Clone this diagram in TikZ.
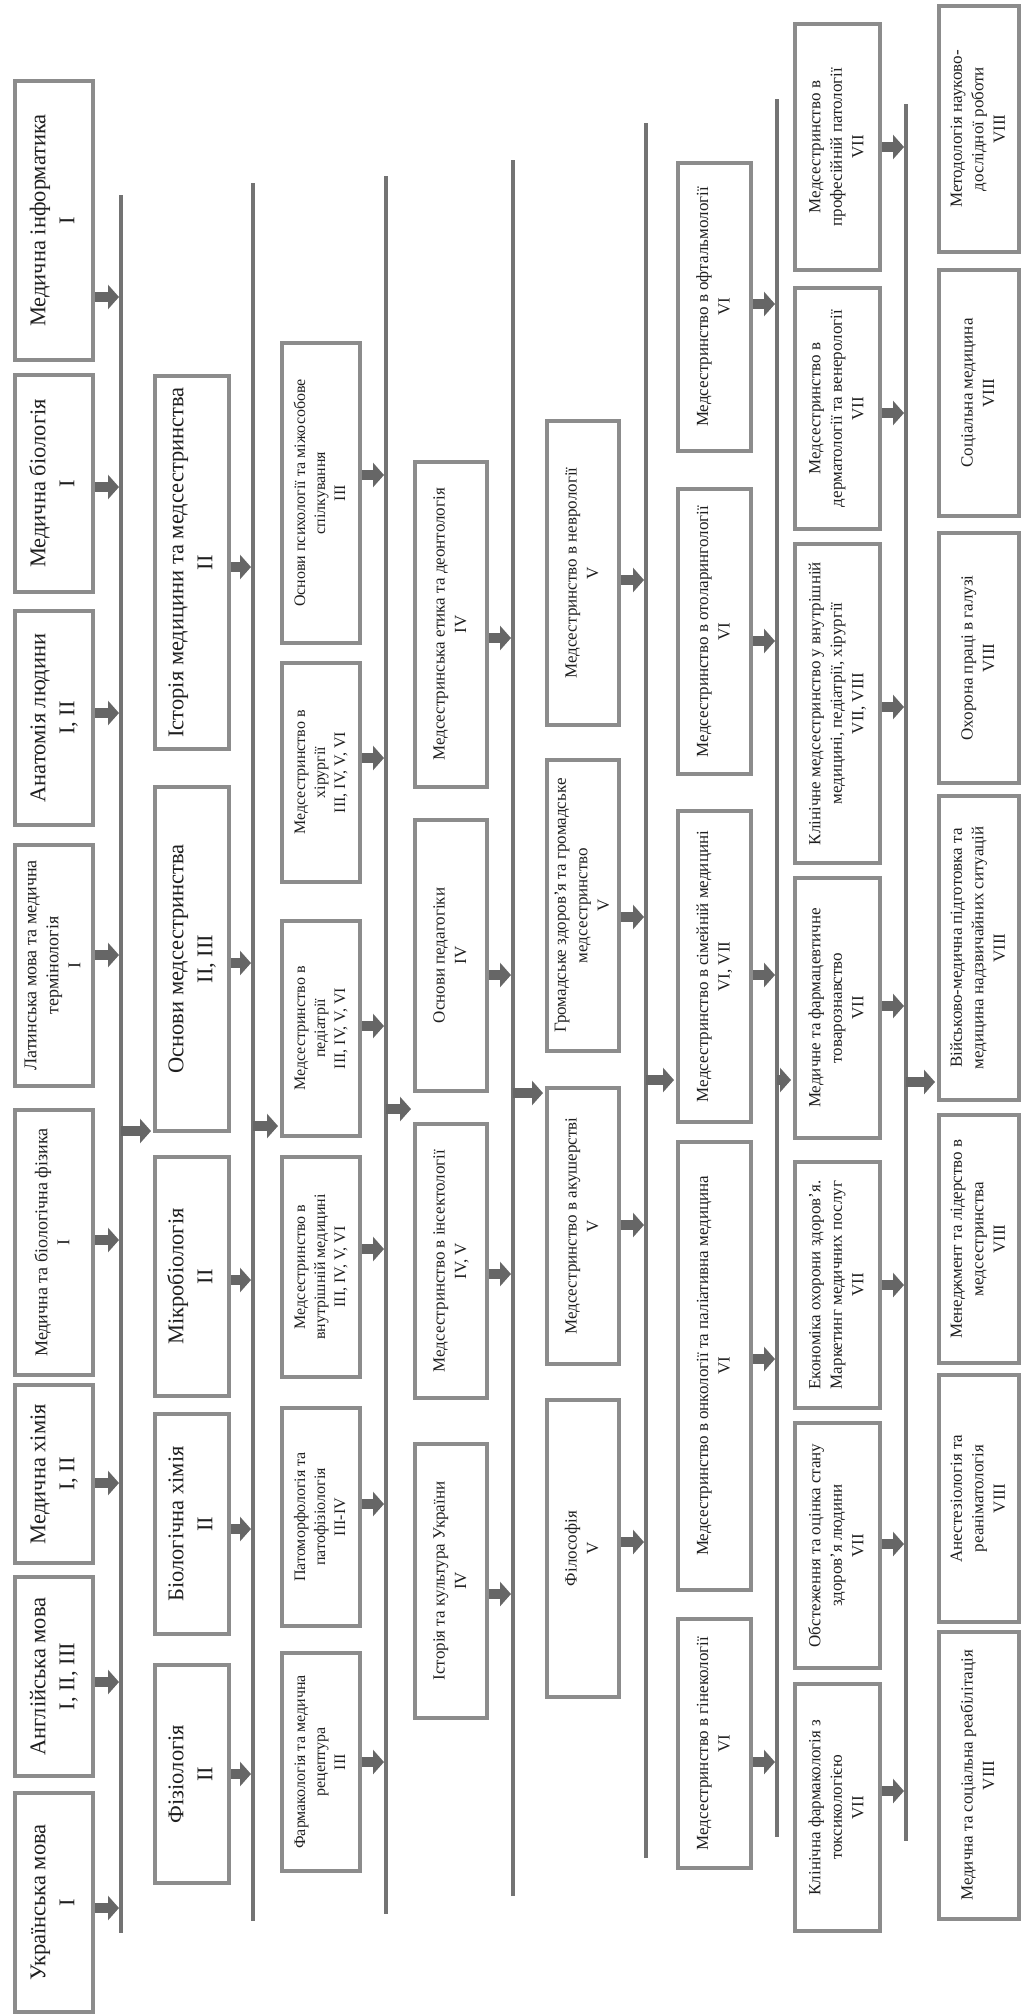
\documentclass[tikz,border=0pt]{standalone}
\usepackage{fontspec}
\setmainfont{Liberation Serif}
\usetikzlibrary{arrows.meta}
\definecolor{boxc}{rgb}{0.55,0.55,0.55}
\definecolor{linec}{rgb}{0.45,0.45,0.45}
\definecolor{arrc}{rgb}{0.40,0.40,0.40}
\definecolor{txtc}{rgb}{0.12,0.12,0.12}
\tikzset{
  box/.style={draw=boxc, line width=4pt, rectangle, inner sep=0pt, text=txtc, fill=white},
  fL/.style={font=\fontsize{22.5}{29}\selectfont},
  fA/.style={font=\fontsize{18}{22}\selectfont},
  fM/.style={font=\fontsize{17}{21.5}\selectfont},
  fS/.style={font=\fontsize{16}{20}\selectfont},
  vline/.style={draw=linec, line width=4pt},
  arr/.style={draw=arrc, line width=10pt, -{Triangle[length=11pt,width=24pt]}, shorten >=2pt},
}
\newcommand\bx[7]{%
  \pgfmathsetmacro\bxcx{(#2+#3)/2}%
  \pgfmathsetmacro\bxcy{-(#4+#5)/2}%
  \pgfmathsetmacro\bxw{#3-#2-4}%
  \pgfmathsetmacro\bxh{#5-#4-4}%
  \node[box,#6,minimum width=\bxw pt,minimum height=\bxh pt] (#1) at (\bxcx,\bxcy)
    {\rotatebox{90}{\begin{tabular}{@{}c@{}}#7\end{tabular}}};}
\newcommand\outarr[3]{\draw[arr] (#1.east |- 0,-#3) -- (#2 |- 0,-#3);}
\newcommand\inarr[3]{\draw[arr] (#1 |- 0,-#3) -- (#2.west |- 0,-#3);}
\begin{document}
\begin{tikzpicture}[x=1pt,y=1pt]
\useasboundingbox (0,0) rectangle (1024,-2016);
\fill[white] (0,0) rectangle (1024,-2016);
% vertical lines
\coordinate (l1t) at (121,-195);  \coordinate (l1b) at (121,-1933);
\coordinate (l2t) at (253,-183);  \coordinate (l2b) at (253,-1921);
\coordinate (l3t) at (386,-176);  \coordinate (l3b) at (386,-1914);
\coordinate (l4t) at (513,-160);  \coordinate (l4b) at (513,-1896);
\coordinate (l5t) at (646,-123);  \coordinate (l5b) at (646,-1858);
\coordinate (l6t) at (777,-99);   \coordinate (l6b) at (777,-1837);
\coordinate (l7t) at (906,-104);  \coordinate (l7b) at (906,-1841);
\foreach \i in {1,...,7} {\draw[vline] (l\i t) -- (l\i b);}
% column 1
\bx{b11}{13}{95}{79}{362}{fL}{Медична інформатика\\I}
\bx{b12}{13}{95}{373}{594}{fL}{Медична біологія\\I}
\bx{b13}{13}{95}{609}{827}{fL}{Анатомія людини\\I, II}
\bx{b14}{13}{95}{843}{1088}{fA}{Латинська мова та медична\\термінологія\\I}
\bx{b15}{13}{95}{1108}{1377}{fA}{Медична та біологічна фізика\\I}
\bx{b16}{13}{95}{1383}{1565}{fL}{Медична хімія\\I, II}
\bx{b17}{13}{95}{1575}{1778}{fL}{Англійська мова\\I, II, III}
\bx{b18}{13}{95}{1791}{2014}{fL}{Українська мова\\I}
% column 2
\bx{b21}{153}{231}{374}{751}{fL}{Історія медицини та медсестринства\\II}
\bx{b22}{153}{231}{785}{1133}{fL}{Основи медсестринства\\II, III}
\bx{b23}{153}{231}{1155}{1398}{fL}{Мікробіологія\\II}
\bx{b24}{153}{231}{1412}{1636}{fL}{Біологічна хімія\\II}
\bx{b25}{153}{231}{1663}{1885}{fL}{Фізіологія\\II}
% column 3
\bx{b31}{280}{362}{341}{645}{fS}{Основи психології та міжособове\\спілкування\\III}
\bx{b32}{280}{362}{661}{884}{fS}{Медсестринство в\\хірургії\\III, IV, V, VI}
\bx{b33}{280}{362}{919}{1138}{fS}{Медсестринство в\\педіатрії\\III, IV, V, VI}
\bx{b34}{280}{362}{1155}{1379}{fS}{Медсестринство в\\внутрішній медицині\\III, IV, V, VI}
\bx{b35}{280}{362}{1406}{1628}{fS}{Патоморфологія та\\патофізіологія\\III-IV}
\bx{b36}{280}{362}{1651}{1873}{fS}{Фармакологія та медична\\рецептура\\III}
% column 4
\bx{b41}{413}{489}{460}{789}{fM}{Медсестринська етика та деонтологія\\IV}
\bx{b42}{413}{489}{818}{1093}{fM}{Основи педагогіки\\IV}
\bx{b43}{413}{489}{1122}{1400}{fM}{Медсестринство в інсектології\\IV, V}
\bx{b44}{413}{489}{1442}{1720}{fM}{Історія та культура України\\IV}
% column 5
\bx{b51}{545}{621}{419}{727}{fM}{Медсестринство в неврології\\V}
\bx{b52}{545}{621}{758}{1053}{fM}{Громадське здоров’я та громадське\\медсестринство\\V}
\bx{b53}{545}{621}{1086}{1366}{fM}{Медсестринство в акушерстві\\V}
\bx{b54}{545}{621}{1398}{1699}{fM}{Філософія\\V}
% column 6
\bx{b61}{676}{753}{161}{453}{fM}{Медсестринство в офтальмології\\VI}
\bx{b62}{676}{753}{487}{776}{fM}{Медсестринство в отоларингології\\VI}
\bx{b63}{676}{753}{809}{1124}{fM}{Медсестринство в сімейній медицині\\VI, VII}
\bx{b64}{676}{753}{1140}{1592}{fM}{Медсестринство в онкології та паліативна медицина\\VI}
\bx{b65}{676}{753}{1617}{1870}{fM}{Медсестринство в гінекології\\VI}
% column 7
\bx{b71}{793}{882}{22}{272}{fM}{Медсестринство в\\професійній патології\\VII}
\bx{b72}{793}{882}{286}{531}{fM}{Медсестринство в\\дерматології та венерології\\VII}
\bx{b73}{793}{882}{542}{865}{fM}{Клінічне медсестринство у внутрішній\\медицині, педіатрії, хірургії\\VII, VIII}
\bx{b74}{793}{882}{876}{1140}{fM}{Медичне та фармацевтичне\\товарознавство\\VII}
\bx{b75}{793}{882}{1160}{1410}{fM}{Економіка охорони здоров’я.\\Маркетинг медичних послуг\\VII}
\bx{b76}{793}{882}{1421}{1670}{fM}{Обстеження та оцінка стану\\здоров’я людини\\VII}
\bx{b77}{793}{882}{1682}{1933}{fM}{Клінічна фармакологія з\\токсикологією\\VII}
% column 8
\bx{b81}{937}{1021}{4}{254}{fM}{Методологія науково-\\дослідної роботи\\VIII}
\bx{b82}{937}{1021}{268}{518}{fM}{Соціальна медицина\\VIII}
\bx{b83}{937}{1021}{531}{785}{fM}{Охорона праці в галузі\\VIII}
\bx{b84}{937}{1021}{794}{1102}{fM}{Військово-медична підготовка та\\медицина надзвичайних ситуацій\\VIII}
\bx{b85}{937}{1021}{1113}{1365}{fM}{Менеджмент та лідерство в\\медсестринства\\VIII}
\bx{b86}{937}{1021}{1373}{1624}{fM}{Анестезіологія та\\реаніматологія\\VIII}
\bx{b87}{937}{1021}{1630}{1921}{fM}{Медична та соціальна реабілітація\\VIII}
% arrows out of column 1
\outarr{b11}{l1t}{297}
\outarr{b12}{l1t}{487}
\outarr{b13}{l1t}{713}
\outarr{b14}{l1t}{955}
\outarr{b15}{l1t}{1240}
\outarr{b16}{l1t}{1483}
\outarr{b17}{l1t}{1682}
\outarr{b18}{l1t}{1908}
% column 2
\inarr{l1t}{b22}{1131}
\outarr{b21}{l2t}{567}
\outarr{b22}{l2t}{963}
\outarr{b23}{l2t}{1280}
\outarr{b24}{l2t}{1529}
\outarr{b25}{l2t}{1774}
% column 3
\inarr{l2t}{b33}{1126}
\outarr{b31}{l3t}{475}
\outarr{b32}{l3t}{758}
\outarr{b33}{l3t}{1026}
\outarr{b34}{l3t}{1249}
\outarr{b35}{l3t}{1504}
\outarr{b36}{l3t}{1762}
% column 4
\inarr{l3t}{b43}{1109}
\outarr{b41}{l4t}{638}
\outarr{b42}{l4t}{975}
\outarr{b43}{l4t}{1274}
\outarr{b44}{l4t}{1594}
% column 5
\inarr{l4t}{b53}{1093}
\outarr{b51}{l5t}{580}
\outarr{b52}{l5t}{917}
\outarr{b53}{l5t}{1225}
\outarr{b54}{l5t}{1542}
% column 6
\inarr{l5t}{b63}{1080}
\outarr{b61}{l6t}{304}
\outarr{b62}{l6t}{641}
\outarr{b63}{l6t}{975}
\outarr{b64}{l6t}{1359}
\outarr{b65}{l6t}{1762}
% column 7
\inarr{l6t}{b74}{1080}
\outarr{b71}{l7t}{147}
\outarr{b72}{l7t}{413}
\outarr{b73}{l7t}{707}
\outarr{b74}{l7t}{1006}
\outarr{b75}{l7t}{1285}
\outarr{b76}{l7t}{1544}
\outarr{b77}{l7t}{1791}
% column 8
\inarr{l7t}{b84}{1082}
\end{tikzpicture}
\end{document}
